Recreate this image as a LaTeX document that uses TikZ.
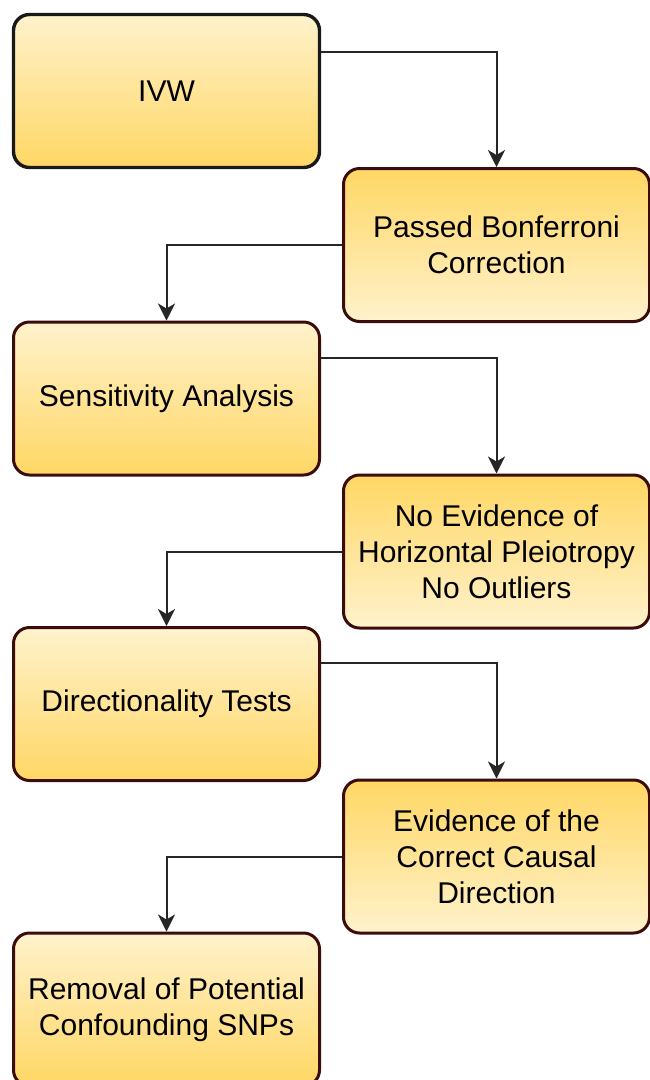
\documentclass[tikz,border=0pt]{standalone}
\usepackage{fontspec}
\setmainfont{Liberation Sans}
\usetikzlibrary{arrows.meta}
\definecolor{lightY}{RGB}{255,242,204}
\definecolor{darkY}{RGB}{255,215,100}
\definecolor{brd}{RGB}{60,12,12}
\tikzset{
  box/.style={draw=brd, line width=3pt, rounded corners=16pt,
    minimum width=306pt, minimum height=153pt, align=center,
    font=\fontsize{30pt}{36pt}\selectfont, inner sep=0pt},
  lbox/.style={box, top color=lightY, bottom color=darkY},
  rbox/.style={box, top color=darkY, bottom color=lightY},
  arr/.style={line width=2pt, draw=black!85, -{Stealth[length=17pt,width=17pt,inset=5pt]}}
}
\begin{document}
\begin{tikzpicture}[x=1pt,y=1pt]
\useasboundingbox (0,0) rectangle (650,-1080);
\node[lbox, draw=black!90, line width=3.4pt] (ivw) at (166.5,-91) {IVW};
\node[rbox] (pbc) at (496.5,-245) {Passed Bonferroni\\Correction};
\node[lbox] (sens) at (166.5,-398.5) {Sensitivity Analysis};
\node[rbox] (noev) at (496.5,-551.5) {No Evidence of\\Horizontal Pleiotropy\\No Outliers};
\node[lbox] (dir) at (166.5,-704) {Directionality Tests};
\node[rbox] (evid) at (496.5,-856.5) {Evidence of the\\Correct Causal\\Direction};
\node[lbox] (rem) at (166.5,-1009.5) {Removal of Potential\\Confounding SNPs};
\draw[arr] ([yshift=-39pt]ivw.north east) -| (pbc.north);
\draw[arr] (pbc.west) -| (sens.north);
\draw[arr] ([yshift=-37pt]sens.north east) -| (noev.north);
\draw[arr] (noev.west) -| (dir.north);
\draw[arr] ([yshift=-37pt]dir.north east) -| (evid.north);
\draw[arr] (evid.west) -| (rem.north);
\end{tikzpicture}
\end{document}
